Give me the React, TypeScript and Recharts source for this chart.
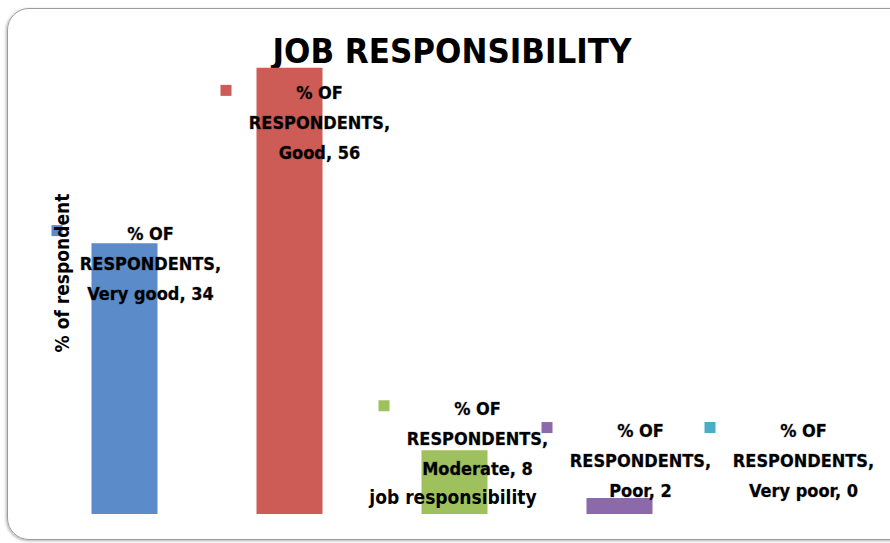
import { BarChart, Bar, XAxis, YAxis, Cell, LabelList } from 'recharts';

// Excel-style single-series column chart, one colour per category, labels carry series + category + value
const SERIES_NAME = '% OF RESPONDENTS';
const categories = ['Very good', 'Good', 'Moderate', 'Poor', 'Very poor'];
const values = [34, 56, 8, 2, 0];
const colors = ['#5b8bc8', '#cd5b56', '#9ec15e', '#8b69ab', '#4bacc6'];

// label placement relative to each bar's centre / top (Excel put them by hand)
const labelOffsets = [
  { dx: 26, dy: -10 },
  { dx: 30, dy: 25 },
  { dx: 23, dy: -42 },
  { dx: 21, dy: -68 },
  { dx: 19, dy: -83 },
];

const FONT = "'Liberation Sans Narrow', 'DejaVu Sans Condensed', 'Liberation Sans', sans-serif";

const data = categories.map((c, i) => ({ name: c, value: values[i] }));

const renderLabel = (props: any) => {
  const { x, y, width, index } = props;
  const off = labelOffsets[index];
  const cx = Number(x) + Number(width) / 2 + off.dx;
  const y0 = Number(y) + off.dy;
  const lines = [SERIES_NAME.replace(' RESPONDENTS', ''), 'RESPONDENTS,', `${categories[index]}, ${values[index]}`];
  return (
    <g>
      <rect x={cx - 99} y={y0 - 8} width={11} height={11} fill={colors[index]} />
      {lines.map((t, k) => (
        <text key={k} x={cx} y={y0 + k * 30} textAnchor="middle" dominantBaseline="central"
          fontFamily={FONT} fontWeight="bold" fontSize={18} fill="#000"
          style={{ paintOrder: 'stroke' }} stroke="rgba(0,0,0,0.25)" strokeWidth={1}>
          {t}
        </text>
      ))}
    </g>
  );
};

export default function App() {
  return (
    <div style={{ position: 'absolute', left: 0, top: 0, width: 890, height: 543, overflow: 'hidden', background: '#fff' }}>
      <div style={{
        position: 'absolute', left: 7, top: 8, width: 910, height: 530,
        border: '1.5px solid #9c9c9c', borderRadius: 22, boxShadow: '-1px 1px 3px rgba(0,0,0,0.3)',
      }} />
      <div style={{
        position: 'absolute', left: 0, width: 904, top: 27, textAlign: 'center',
        fontFamily: FONT, fontWeight: 'bold', fontSize: 34.5, color: '#000', lineHeight: '48px',
      }}>JOB RESPONSIBILITY</div>
      <div style={{ position: 'absolute', left: 0, top: 0 }}>
        <BarChart width={890} height={543} data={data} barCategoryGap="30%"
          margin={{ top: 36, right: 23, left: 42, bottom: 29 }}>
          <XAxis dataKey="name" hide />
          <YAxis domain={[0, 60]} hide />
          {/* minPointSize keeps the zero bar (and so its label) in the layout; it is drawn transparent */}
          <Bar dataKey="value" isAnimationActive={false} minPointSize={1}>
            {data.map((d, i) => <Cell key={d.name} fill={colors[i]} fillOpacity={d.value === 0 ? 0 : 1} />)}
            <LabelList dataKey="value" content={renderLabel} />
          </Bar>
        </BarChart>
      </div>
      <div style={{
        position: 'absolute', left: 62, top: 273, transform: 'translate(-50%, -50%) rotate(-90deg)',
        fontFamily: FONT, fontWeight: 'bold', fontSize: 19, whiteSpace: 'nowrap', color: '#000',
      }}>% of respondent</div>
      <div style={{
        position: 'absolute', left: 453, top: 497, transform: 'translate(-50%, -50%)',
        fontFamily: FONT, fontWeight: 'bold', fontSize: 19, whiteSpace: 'nowrap', color: '#000',
      }}>job responsibility</div>
    </div>
  );
}
